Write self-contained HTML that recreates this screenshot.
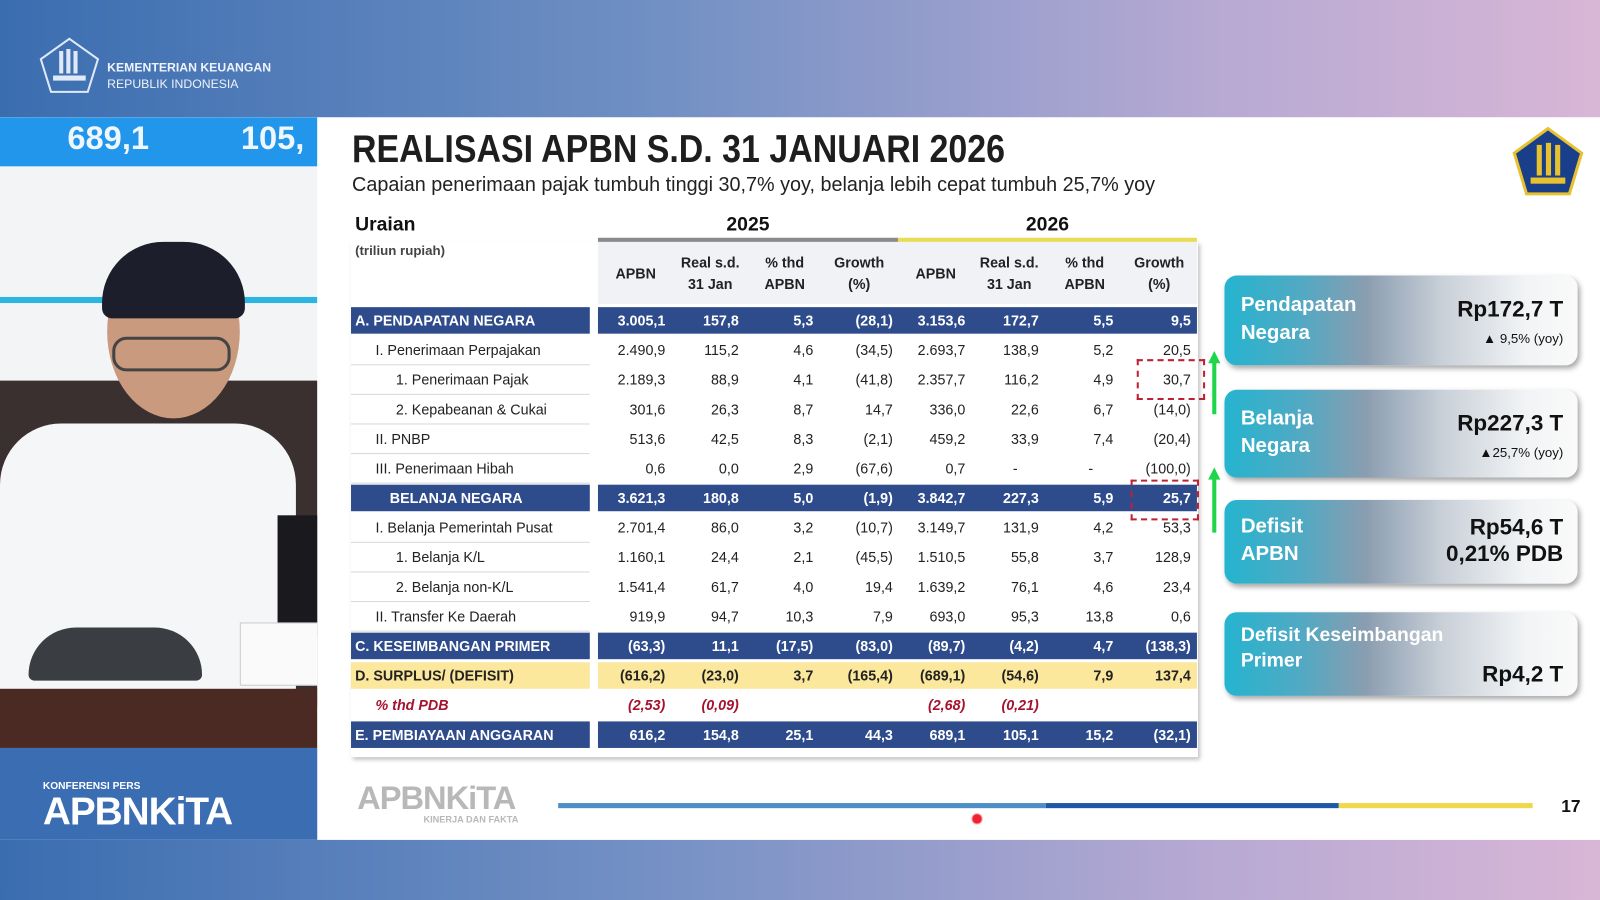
<!DOCTYPE html>
<html><head><meta charset="utf-8">
<style>
html,body{margin:0;padding:0;width:1600px;height:900px;overflow:hidden;background:#fff;font-family:"Liberation Sans",sans-serif}
#stage{position:absolute;left:0;top:0;width:1568px;height:882px;transform:scale(1.020408);transform-origin:0 0;overflow:hidden}
.abs{position:absolute}
.cell{position:absolute;font-size:14px;color:#222;white-space:nowrap;line-height:20px}
.card{position:absolute;left:1200px;width:346px;border-radius:12px;background:linear-gradient(90deg,#25b4cf 0%,#52a9c3 22%,#8a9db0 40%,#c9d0d8 62%,#f1f3f5 85%,#fafafa 100%);box-shadow:2px 3px 5px rgba(0,0,0,.35)}
.card .l{position:absolute;left:16px;color:#fff;font-weight:bold;font-size:20px;line-height:27px}
.card .r{position:absolute;right:14px;text-align:right;color:#111;font-weight:bold;font-size:22px;line-height:26px}
.card .s{font-size:13px;font-weight:normal;line-height:18px}
</style></head>
<body>
<div id="stage">
  <div class="abs" style="left:0;top:0;width:1568px;height:115px;background:linear-gradient(90deg,#3a6db0 0%,#6f8fc3 40%,#b5a9d3 75%,#d8b6d6 100%)"></div>
  <svg class="abs" style="left:38px;top:36px" width="60" height="56" viewBox="0 0 60 56"><polygon points="30,2 58,22 48,54 12,54 2,22" fill="none" stroke="#dfe9f7" stroke-width="2"/><rect x="20" y="14" width="4" height="22" fill="#dfe9f7"/><rect x="27" y="12" width="4" height="24" fill="#dfe9f7"/><rect x="34" y="14" width="4" height="22" fill="#dfe9f7"/><rect x="14" y="38" width="32" height="5" fill="#dfe9f7"/></svg>
  <div class="abs" style="left:105px;top:58px;color:#eef3fb;font-size:12px;font-weight:bold;line-height:16px">KEMENTERIAN KEUANGAN<br><span style="font-weight:normal">REPUBLIK INDONESIA</span></div>

  <div class="abs" style="left:0;top:115px;width:311px;height:618px;background:#f3f4f6;overflow:hidden">
    <div class="abs" style="left:0;top:0;width:311px;height:48px;background:#2196ea"></div>
    <div class="abs" style="left:66px;top:2px;color:#eef6ff;font-weight:bold;font-size:32px">689,1</div>
    <div class="abs" style="left:236px;top:2px;color:#eef6ff;font-weight:bold;font-size:32px">105,</div>
    <div class="abs" style="left:0;top:176px;width:311px;height:6px;background:#2cb5e0"></div>
    <div class="abs" style="left:0;top:258px;width:311px;height:320px;background:#3a3030"></div>
    <div class="abs" style="left:0;top:300px;width:290px;height:300px;background:#f5f6f8;border-radius:60px 60px 0 0"></div>
    <div class="abs" style="left:105px;top:125px;width:130px;height:170px;background:#c99a7e;border-radius:50%"></div>
    <div class="abs" style="left:100px;top:122px;width:140px;height:75px;background:#1c1e2c;border-radius:60px 60px 10px 10px"></div>
    <div class="abs" style="left:110px;top:215px;width:110px;height:28px;border:3px solid #444;border-radius:14px"></div>
    <div class="abs" style="left:272px;top:390px;width:40px;height:120px;background:#1a1a1e"></div>
    <div class="abs" style="left:235px;top:495px;width:76px;height:60px;background:#fafafa;border:1px solid #ccc"></div>
    <div class="abs" style="left:28px;top:500px;width:170px;height:52px;background:#3a3d42;border-radius:80px 80px 10px 10px"></div>
    <div class="abs" style="left:0;top:560px;width:311px;height:58px;background:#4a2a22"></div>
  </div>
  <div class="abs" style="left:0;top:733px;width:311px;height:90px;background:#3b6db3">
    <div class="abs" style="left:42px;top:32px;color:#fff;font-size:10px;font-weight:bold">KONFERENSI PERS</div>
    <div class="abs" style="left:42px;top:42px;color:#fff;font-size:38px;font-weight:bold;letter-spacing:-1px">APBNKiTA</div>
  </div>
  <div class="abs" style="left:0;top:823px;width:1568px;height:59px;background:linear-gradient(90deg,#3a6db0 0%,#7390c4 40%,#b6a9d3 75%,#d8b6d6 100%)"></div>

  <div class="abs" style="left:311px;top:115px;width:1257px;height:708px;background:#fff"></div>
  <div class="abs" style="left:345px;top:126px;font-size:38px;font-weight:bold;color:#1e1e1e;transform:scaleX(0.875);transform-origin:0 0;white-space:nowrap">REALISASI APBN S.D. 31 JANUARI 2026</div>
  <div class="abs" style="left:345px;top:170px;font-size:20px;color:#222;transform:scaleX(0.97);transform-origin:0 0;white-space:nowrap">Capaian penerimaan pajak tumbuh tinggi 30,7% yoy, belanja lebih cepat tumbuh 25,7% yoy</div>
  <svg class="abs" style="left:1482px;top:124px" width="70" height="68" viewBox="0 0 70 68"><polygon points="35,2 68,26 56,66 14,66 2,26" fill="#1a3f8a" stroke="#e7c22e" stroke-width="3"/><rect x="24" y="18" width="5" height="30" fill="#e7c22e"/><rect x="33" y="16" width="5" height="32" fill="#e7c22e"/><rect x="42" y="18" width="5" height="30" fill="#e7c22e"/><rect x="18" y="50" width="34" height="6" fill="#e7c22e"/></svg>

  <div class="abs" style="left:344px;top:236px;width:830px;height:506px;box-shadow:2px 3px 4px rgba(0,0,0,.25);background:#fff"></div>
  <div class="abs" style="left:348px;top:210px;font-size:19px;font-weight:bold;color:#111">Uraian</div>
  <div class="abs" style="left:348px;top:238px;font-size:13px;font-weight:bold;color:#444">(triliun rupiah)</div>
  <div class="abs" style="left:586px;top:236px;width:587px;height:62px;background:#f1f2f6"></div>
  <div class="abs" style="left:586px;top:210px;width:294px;text-align:center;font-size:19px;font-weight:bold;color:#111">2025</div>
  <div class="abs" style="left:880px;top:210px;width:293px;text-align:center;font-size:19px;font-weight:bold;color:#111">2026</div>
  <div class="abs" style="left:586px;top:233px;width:294px;height:4px;background:#8a8a8a"></div>
  <div class="abs" style="left:880px;top:233px;width:293px;height:4px;background:#e9dc55"></div>
  <div id="tbl"></div>

  <div class="abs" style="left:1114px;top:352px;width:63px;height:36px;border:2px dashed #c02035"></div>
  <div class="abs" style="left:1108px;top:470px;width:63px;height:36px;border:2px dashed #c02035"></div>
  <svg class="abs" style="left:1180px;top:340px" width="20" height="185"><polygon points="10,4 16,16 12,16 12,66 8,66 8,16 4,16" fill="#1fd64a"/><polygon points="10,118 16,130 12,130 12,182 8,182 8,130 4,130" fill="#1fd64a"/></svg>

  <div class="card" style="top:270px;height:88px"><div class="l" style="top:16px">Pendapatan<br>Negara</div><div class="r" style="top:20px">Rp172,7 T<br><span class="s">▲ 9,5% (yoy)</span></div></div>
  <div class="card" style="top:382px;height:86px"><div class="l" style="top:15px">Belanja<br>Negara</div><div class="r" style="top:20px">Rp227,3 T<br><span class="s">▲25,7% (yoy)</span></div></div>
  <div class="card" style="top:490px;height:82px"><div class="l" style="top:13px">Defisit<br>APBN</div><div class="r" style="top:14px">Rp54,6 T<br>0,21% PDB</div></div>
  <div class="card" style="top:600px;height:82px"><div class="l" style="top:10px;font-size:19px;line-height:25px">Defisit Keseimbangan<br>Primer</div><div class="r" style="top:48px">Rp4,2 T</div></div>

  <div class="abs" style="left:350px;top:764px;color:#b8b8b8;font-size:32px;font-weight:bold;letter-spacing:-1px">APBNKiTA</div>
  <div class="abs" style="left:415px;top:798px;color:#b8b8b8;font-size:9px;font-weight:bold">KINERJA DAN FAKTA</div>
  <div class="abs" style="left:547px;top:787px;width:478px;height:5px;background:#4b8fc6"></div>
  <div class="abs" style="left:1025px;top:787px;width:287px;height:5px;background:#1f59a6"></div>
  <div class="abs" style="left:1312px;top:787px;width:190px;height:5px;background:#f1d84b"></div>
  <div class="abs" style="left:952px;top:797px;width:9px;height:9px;border-radius:50%;background:#e23;border:1px solid #f99"></div>
  <div class="abs" style="left:1530px;top:781px;font-size:17px;font-weight:bold;color:#111">17</div>
</div>
<script>
const labels=["A. PENDAPATAN NEGARA","I. Penerimaan Perpajakan","1.  Penerimaan Pajak","2.  Kepabeanan & Cukai","II. PNBP","III. Penerimaan Hibah","BELANJA NEGARA","I. Belanja Pemerintah Pusat","1.  Belanja K/L","2.  Belanja non-K/L","II. Transfer Ke Daerah","C. KESEIMBANGAN PRIMER","D. SURPLUS/ (DEFISIT)","% thd PDB","E. PEMBIAYAAN ANGGARAN"];
const rowTypes=["band","n","n","n","n","n","band","n","n","n","n","band","yellow","pdb","band"];
const indents=[0,1,2,2,1,1,1,1,2,2,1,0,0,1,0];
const apbn2025=["3.005,1","2.490,9","2.189,3","301,6","513,6","0,6","3.621,3","2.701,4","1.160,1","1.541,4","919,9","(63,3)","(616,2)","(2,53)","616,2"];
const real2025=["157,8","115,2","88,9","26,3","42,5","0,0","180,8","86,0","24,4","61,7","94,7","11,1","(23,0)","(0,09)","154,8"];
const pct2025=["5,3","4,6","4,1","8,7","8,3","2,9","5,0","3,2","2,1","4,0","10,3","(17,5)","3,7","","25,1"];
const growth2025=["(28,1)","(34,5)","(41,8)","14,7","(2,1)","(67,6)","(1,9)","(10,7)","(45,5)","19,4","7,9","(83,0)","(165,4)","","44,3"];
const apbn2026=["3.153,6","2.693,7","2.357,7","336,0","459,2","0,7","3.842,7","3.149,7","1.510,5","1.639,2","693,0","(89,7)","(689,1)","(2,68)","689,1"];
const real2026=["172,7","138,9","116,2","22,6","33,9","-","227,3","131,9","55,8","76,1","95,3","(4,2)","(54,6)","(0,21)","105,1"];
const pct2026=["5,5","5,2","4,9","6,7","7,4","-","5,9","4,2","3,7","4,6","13,8","4,7","7,9","","15,2"];
const growth2026=["9,5","20,5","30,7","(14,0)","(20,4)","(100,0)","25,7","53,3","128,9","23,4","0,6","(138,3)","137,4","","(32,1)"];
const colHeads=[["APBN"],["Real s.d.","31 Jan"],["% thd","APBN"],["Growth","(%)"],["APBN"],["Real s.d.","31 Jan"],["% thd","APBN"],["Growth","(%)"]];
const series=[apbn2025,real2025,pct2025,growth2025,apbn2026,real2026,pct2026,growth2026];
const colRight=[652,724,797,875,946,1018,1091,1167];
const colCenter=[623,696,769,842,917,989,1063,1136];
const T=document.getElementById('tbl');
function rowY(i){return 314+i*29;}
colHeads.forEach((h,c)=>{
  const d=document.createElement('div');
  
  
  d.className='cell';
  d.style.cssText='left:'+(colCenter[c]-40)+'px;width:80px;text-align:center;font-weight:bold;font-size:14px;top:'+(h.length>1?247:258)+'px;line-height:21px;color:#222';
  d.innerHTML=h.join('<br>');
  T.appendChild(d);
});
labels.forEach((lab,i)=>{
  const y=rowY(i), t=rowTypes[i];
  if(t==='band'||t==='yellow'){
    const bg=t==='band'?'#2e4b8c':'#fbe89c';
    const a=document.createElement('div');
    
    
    a.className='abs';a.style.cssText='left:344px;top:'+(y-13)+'px;width:234px;height:26px;background:'+bg;T.appendChild(a);
    const b=document.createElement('div');
    
    
    b.className='abs';b.style.cssText='left:586px;top:'+(y-13)+'px;width:587px;height:26px;background:'+bg;T.appendChild(b);
  } else if(t==='n'){
    const l1=document.createElement('div');
    
    
    l1.className='abs';l1.style.cssText='left:344px;top:'+(y+14)+'px;width:234px;height:1px;background:#d8d8d8';T.appendChild(l1);
  }
  const color=t==='band'?'#fff':(t==='pdb'?'#a5122e':'#222');
  const fw=(t==='band'||t==='yellow'||t==='pdb')?'bold':'normal';
  const fs=t==='pdb'?'italic':'normal';
  const lx=344+4+indents[i]*20+(i===6?14:0);
  const L=document.createElement('div');
  
  
  L.className='cell';L.textContent=lab;
  L.style.cssText='left:'+lx+'px;top:'+(y-10)+'px;color:'+color+';font-weight:'+fw+';font-style:'+fs;
  T.appendChild(L);
  series.forEach((s,c)=>{
    const v=document.createElement('div');
    
    
    v.className='cell';v.textContent=s[i];
    const cent=(s[i]==='-');
    v.style.cssText='left:'+(colRight[c]-90)+'px;width:90px;text-align:'+(cent?'center':'right')+';top:'+(y-10)+'px;color:'+color+';font-weight:'+fw+';font-style:'+fs;
    if(cent){v.style.left=(colCenter[c]+6-45)+'px';}
    T.appendChild(v);
  });
});
</script>
</body></html>
